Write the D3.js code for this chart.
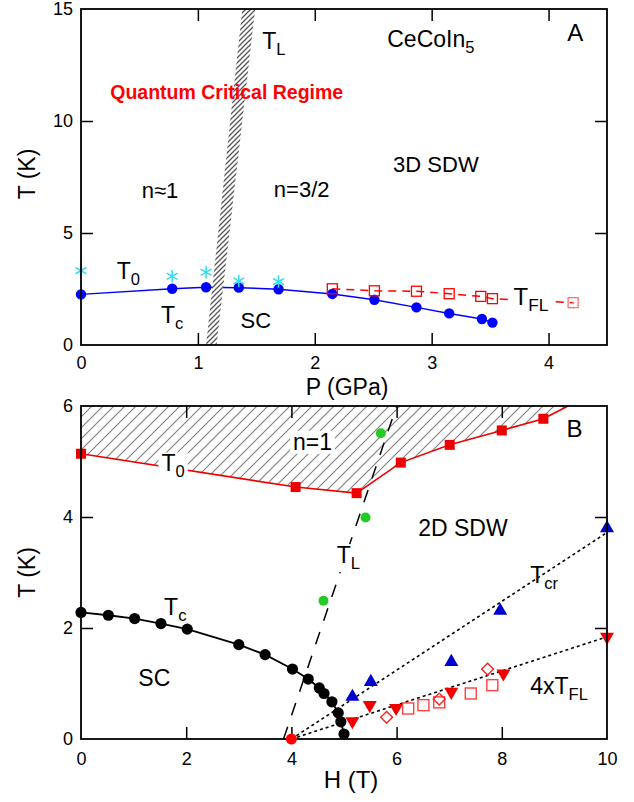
<!DOCTYPE html>
<html>
<head>
<meta charset="utf-8">
<script src="https://cdn.jsdelivr.net/npm/d3@7"></script>
<style>
  body { margin: 0; background: #fff; }
  text { font-family: 'Liberation Sans', Arial, sans-serif; }
</style>
</head>
<body>
<div class="canvas"></div>
<script>
// ---------- panel A data (P in GPa, T in K) ----------
const pTc = [0, 0.78, 1.07, 1.35, 1.69, 2.15, 2.51, 2.87, 3.15, 3.43, 3.52];
const tcA = [2.26, 2.51, 2.58, 2.56, 2.49, 2.28, 2.02, 1.68, 1.41, 1.16, 1.0];
const pT0 = [0, 0.78, 1.07, 1.35, 1.69];
const t0A = [3.32, 3.07, 3.25, 2.86, 2.83];
const pFL = [2.15, 2.51, 2.87, 3.15, 3.42, 3.52, 4.21];
const tFL = [2.51, 2.42, 2.40, 2.29, 2.17, 2.07, 1.89];
const pTL = [1.07, 1.16, 1.49, 1.38];
const tTL = [0, 0, 15, 15];
const ticksPA = [0, 1, 2, 3, 4];
const ticksTA = [0, 5, 10, 15];

// ---------- panel B data (H in T, T in K) ----------
const hTc = [0, 0.52, 1.02, 1.52, 2.02, 3.0, 3.5, 4.02, 4.32, 4.53, 4.62, 4.77, 4.89, 4.94, 5.0];
const tcB = [2.28, 2.23, 2.17, 2.08, 1.98, 1.70, 1.52, 1.26, 1.08, 0.92, 0.82, 0.67, 0.47, 0.31, 0.09];
const hT0 = [0, 4.08, 5.24, 6.08, 7.01, 8.0, 8.79];
const t0B = [5.14, 4.54, 4.43, 4.98, 5.30, 5.56, 5.77];
const hT0End = 9.26, tT0End = 6.0;
const hTLB = [3.85, 6.0];
const tTLB = [0, 6.0];
const hGreen = [4.61, 5.41, 5.70];
const tGreen = [2.49, 3.99, 5.51];
const hCr = [5.16, 5.51, 7.04, 7.97, 10.0];
const tCr = [0.76, 1.03, 1.39, 2.31, 3.80];
const hCrFit = [4, 10];
const tCrFit = [0, 3.72];
const hFLB = [5.16, 5.49, 5.99, 7.04, 8.03, 10.0];
const tFLB = [0.32, 0.61, 0.56, 0.85, 1.18, 1.84];
const hFLFit = [4, 10];
const tFLFit = [0, 1.84];
const hSq = [6.22, 6.51, 6.81, 7.41, 7.82];
const tSq = [0.55, 0.61, 0.66, 0.82, 0.97];
const hDia = [5.81, 6.81, 7.73];
const tDia = [0.39, 0.72, 1.26];
const hQcp = [4.0];
const tQcp = [0];
const ticksH = [0, 2, 4, 6, 8, 10];
const ticksTB = [0, 2, 4, 6];

const outerWidth = 634;
const outerHeight = 802;

const svg = d3.select('.canvas')
    .append('svg')
    .attr('width', outerWidth)
    .attr('height', outerHeight);

// hatch patterns
const defs = svg.append('defs');
defs.append('pattern')
    .attr('id', 'hatchA')
    .attr('patternUnits', 'userSpaceOnUse')
    .attr('width', 5).attr('height', 5)
    .call(p => {
        p.append('rect').attr('width', 5).attr('height', 5).attr('fill', '#fff');
        p.append('path').attr('d', 'M-1,1 L1,-1 M0,5 L5,0 M4,6 L6,4')
            .attr('stroke', '#555').attr('stroke-width', 1.3);
    });
defs.append('pattern')
    .attr('id', 'hatchB')
    .attr('patternUnits', 'userSpaceOnUse')
    .attr('width', 11).attr('height', 11)
    .call(p => {
        p.append('path').attr('d', 'M-2,2 L2,-2 M0,11 L11,0 M9,13 L13,9')
            .attr('stroke', '#808080').attr('stroke-width', 1.1);
    });

// ---------- helpers ----------
const line = (x, y) => d3.line().x(d => x(d[0])).y(d => y(d[1]));

const drawFrame = (g, x, y, xTicks, yTicks, w, h, pad) => {
    const [x0, x1] = x.domain();
    const [y0, y1] = y.domain();
    const xIn = xTicks.filter(d => d > x0 && d < x1);
    const yIn = yTicks.filter(d => d > y0 && d < y1);
    const fmt = d => String(d);
    g.append('g').attr('class', 'lab').attr('transform', `translate(0,${h})`)
        .call(d3.axisBottom(x).tickValues(xTicks).tickSize(0).tickPadding(pad).tickFormat(fmt));
    g.append('g').attr('class', 'lab')
        .call(d3.axisLeft(y).tickValues(yTicks).tickSize(0).tickPadding(8).tickFormat(fmt));
    g.append('g').attr('transform', `translate(0,${h})`)
        .call(d3.axisBottom(x).tickValues(xIn).tickSizeInner(-12).tickSizeOuter(0).tickFormat(''));
    g.append('g')
        .call(d3.axisTop(x).tickValues(xIn).tickSizeInner(-12).tickSizeOuter(0).tickFormat(''));
    g.append('g')
        .call(d3.axisLeft(y).tickValues(yIn).tickSizeInner(-12).tickSizeOuter(0).tickFormat(''));
    g.append('g').attr('transform', `translate(${w},0)`)
        .call(d3.axisRight(y).tickValues(yIn).tickSizeInner(-12).tickSizeOuter(0).tickFormat(''));
    g.selectAll('.domain').remove();
    g.selectAll('.tick line').attr('stroke', '#000').attr('stroke-width', 1.5);
    g.selectAll('.lab .tick text').attr('font-size', 18).attr('fill', '#000')
        .style('font-family', "'Liberation Sans', Arial, sans-serif");
    g.append('rect')
        .attr('width', w).attr('height', h)
        .attr('fill', 'none').attr('stroke', '#000').attr('stroke-width', 1.8);
};

// label with optional subscripts: parts = [[text, isSub], ...]
const label = (g, px, py, parts, size = 23, box = false) => {
    const t = g.append('text')
        .attr('x', px).attr('y', py)
        .attr('font-size', size).attr('fill', '#000');
    let sub = false;
    parts.forEach(([s, isSub]) => {
        const ts = t.append('tspan').text(s);
        if (isSub && !sub) ts.attr('dy', 6).attr('font-size', size * 0.72);
        if (!isSub && sub) ts.attr('dy', -6);
        sub = isSub;
    });
    if (box) {
        const b = t.node().getBBox();
        g.insert('rect', () => t.node())
            .attr('x', b.x - 3).attr('y', b.y + 2)
            .attr('width', b.width + 6).attr('height', b.height - 3)
            .attr('fill', '#fff');
    }
    return t;
};

// ---------- panel A ----------
const mA = {left: 81, top: 9};
const wA = 526, hA = 336;
const gA = svg.append('g').attr('transform', `translate(${mA.left},${mA.top})`);
const xA = d3.scaleLinear().domain([0, 4.5]).range([0, wA]);
const yA = d3.scaleLinear().domain([0, 15]).range([hA, 0]);

gA.append('path')
    .datum(d3.zip(pTc, tcA))
    .attr('fill', 'none').attr('stroke', '#0000ff').attr('stroke-width', 1.5)
    .attr('d', line(xA, yA));

gA.append('path')
    .datum(d3.zip(pFL, tFL))
    .attr('fill', 'none').attr('stroke', '#ff0000').attr('stroke-width', 1.5)
    .attr('stroke-dasharray', '8,6')
    .attr('d', line(xA, yA));

// T_L band
gA.append('path')
    .datum(d3.zip(pTL, tTL))
    .attr('fill', 'url(#hatchA)').attr('stroke', 'none')
    .attr('d', d => line(xA, yA)(d) + 'Z');

gA.selectAll('.tc')
    .data(d3.zip(pTc, tcA))
    .enter().append('circle')
    .attr('cx', d => xA(d[0])).attr('cy', d => yA(d[1]))
    .attr('r', 5.2).attr('fill', '#0000ff');

gA.selectAll('.t0')
    .data(d3.zip(pT0, t0A))
    .enter().append('path')
    .attr('transform', d => `translate(${xA(d[0])},${yA(d[1])})`)
    .attr('d', d3.symbol().type(d3.symbolAsterisk).size(110))
    .attr('fill', 'none').attr('stroke', '#30e0f0').attr('stroke-width', 1.5);

const flA = d3.zip(pFL, tFL);
gA.selectAll('.fl')
    .data(flA)
    .enter().append('rect')
    .attr('x', d => xA(d[0]) - 5).attr('y', d => yA(d[1]) - 5)
    .attr('width', 10).attr('height', 10)
    .attr('fill', 'none')
    .attr('stroke', (d, i) => i === flA.length - 1 ? '#ff7070' : '#ff0000')
    .attr('stroke-width', 1.3);
gA.append('circle')
    .attr('cx', xA(flA[flA.length - 1][0])).attr('cy', yA(flA[flA.length - 1][1]))
    .attr('r', 1.2).attr('fill', '#ff7070');

drawFrame(gA, xA, yA, ticksPA, ticksTA, wA, hA, 11);

label(gA, xA(1.55), yA(13.2), [['T'], ['L', true]]);
label(gA, xA(2.62), yA(13.3), [['CeCoIn'], ['5', true]]);
label(gA, xA(4.16), yA(13.55), [['A']], 24);
gA.append('text')
    .attr('x', xA(0.25)).attr('y', yA(11.0))
    .attr('font-size', 19.5).attr('font-weight', 'bold').attr('fill', '#ff0000')
    .text('Quantum Critical Regime');
label(gA, xA(0.52), yA(6.58), [['n≈1']], 22);
label(gA, xA(1.65), yA(6.6), [['n=3/2']], 22);
label(gA, xA(2.67), yA(7.74), [['3D SDW']], 22);
label(gA, xA(0.305), yA(2.95), [['T'], ['0', true]]);
label(gA, xA(0.684), yA(0.98), [['T'], ['c', true]]);
label(gA, xA(1.365), yA(0.76), [['SC']], 22);
label(gA, xA(3.70), yA(1.79), [['T'], ['FL', true]], 24, true);

gA.append('text')
    .attr('x', wA / 2 + 3).attr('y', hA + 50)
    .attr('text-anchor', 'middle').attr('font-size', 23)
    .text('P (GPa)');
gA.append('text')
    .attr('transform', `translate(${-46},${hA / 2 - 3}) rotate(-90)`)
    .attr('text-anchor', 'middle').attr('font-size', 23)
    .text('T (K)');

// ---------- panel B ----------
const mB = {left: 81, top: 406};
const wB = 526, hB = 333;
const gB = svg.append('g').attr('transform', `translate(${mB.left},${mB.top})`);
const xB = d3.scaleLinear().domain([0, 10]).range([0, wB]);
const yB = d3.scaleLinear().domain([0, 6]).range([hB, 0]);

const t0Line = d3.zip(hT0, t0B).concat([[hT0End, tT0End]]);

// hatched region above T0
gB.append('path')
    .datum([[0, 6]].concat(t0Line))
    .attr('fill', 'url(#hatchB)').attr('stroke', 'none')
    .attr('d', d => line(xB, yB)(d) + 'Z');

gB.append('path')
    .datum(t0Line)
    .attr('fill', 'none').attr('stroke', '#ee0000').attr('stroke-width', 1.6)
    .attr('d', line(xB, yB));

gB.append('path')
    .datum(d3.zip(hTLB, tTLB))
    .attr('fill', 'none').attr('stroke', '#000').attr('stroke-width', 1.5)
    .attr('stroke-dasharray', '13,12')
    .attr('d', line(xB, yB));

[[hCrFit, tCrFit], [hFLFit, tFLFit]].forEach(([hs, ts]) => {
    gB.append('path')
        .datum(d3.zip(hs, ts))
        .attr('fill', 'none').attr('stroke', '#000').attr('stroke-width', 1.6)
        .attr('stroke-dasharray', '3,3')
        .attr('d', line(xB, yB));
});

gB.append('path')
    .datum(d3.zip(hTc, tcB))
    .attr('fill', 'none').attr('stroke', '#000').attr('stroke-width', 1.8)
    .attr('d', line(xB, yB));

// labels with white boxes sit above lines and hatching
label(gB, xB(1.53), yB(4.82), [['T'], ['0', true]], 23, true);
label(gB, xB(4.03), yB(5.21), [['n=1']], 23, true);
label(gB, xB(4.86), yB(3.17), [['T'], ['L', true]], 23, true);

gB.selectAll('.tcb')
    .data(d3.zip(hTc, tcB))
    .enter().append('circle')
    .attr('cx', d => xB(d[0])).attr('cy', d => yB(d[1]))
    .attr('r', 5.6).attr('fill', '#000');

gB.selectAll('.t0b')
    .data(d3.zip(hT0, t0B))
    .enter().append('rect')
    .attr('x', d => xB(d[0]) - 5).attr('y', d => yB(d[1]) - 5)
    .attr('width', 10).attr('height', 10)
    .attr('fill', '#ee0000');

gB.selectAll('.green')
    .data(d3.zip(hGreen, tGreen))
    .enter().append('circle')
    .attr('cx', d => xB(d[0])).attr('cy', d => yB(d[1]))
    .attr('r', 5).attr('fill', '#22cc22');

gB.selectAll('.cr')
    .data(d3.zip(hCr, tCr))
    .enter().append('path')
    .attr('transform', d => `translate(${xB(d[0])},${yB(d[1])})`)
    .attr('d', d3.symbol().type(d3.symbolTriangle).size(85))
    .attr('fill', '#0000cc');

gB.selectAll('.flb')
    .data(d3.zip(hFLB, tFLB))
    .enter().append('path')
    .attr('transform', d => `translate(${xB(d[0])},${yB(d[1])}) rotate(180)`)
    .attr('d', d3.symbol().type(d3.symbolTriangle).size(85))
    .attr('fill', '#ee0000');

gB.selectAll('.sq')
    .data(d3.zip(hSq, tSq))
    .enter().append('rect')
    .attr('x', d => xB(d[0]) - 5.5).attr('y', d => yB(d[1]) - 5.5)
    .attr('width', 11).attr('height', 11)
    .attr('fill', 'none').attr('stroke', '#ff4040').attr('stroke-width', 1.4);

gB.selectAll('.dia')
    .data(d3.zip(hDia, tDia))
    .enter().append('path')
    .attr('transform', d => `translate(${xB(d[0])},${yB(d[1])}) rotate(45)`)
    .attr('d', d3.symbol().type(d3.symbolSquare).size(70))
    .attr('fill', 'none').attr('stroke', '#ff2020').attr('stroke-width', 1.4);

drawFrame(gB, xB, yB, ticksH, ticksTB, wB, hB, 13);

gB.selectAll('.qcp')
    .data(d3.zip(hQcp, tQcp))
    .enter().append('circle')
    .attr('cx', d => xB(d[0])).attr('cy', d => yB(d[1]))
    .attr('r', 5.5).attr('fill', '#ff0000');

label(gB, xB(6.41), yB(3.65), [['2D SDW']]);
label(gB, xB(8.54), yB(2.81), [['T'], ['cr', true]]);
label(gB, xB(8.54), yB(0.81), [['4xT'], ['FL', true]]);
label(gB, xB(1.09), yB(0.95), [['SC']]);
label(gB, xB(1.58), yB(2.23), [['T'], ['c', true]]);
label(gB, xB(9.23), yB(5.45), [['B']], 24);

gB.append('text')
    .attr('x', wB / 2 + 7).attr('y', hB + 49)
    .attr('text-anchor', 'middle').attr('font-size', 24)
    .text('H (T)');
gB.append('text')
    .attr('transform', `translate(${-46},${hB / 2}) rotate(-90)`)
    .attr('text-anchor', 'middle').attr('font-size', 23)
    .text('T (K)');
</script>
</body>
</html>
